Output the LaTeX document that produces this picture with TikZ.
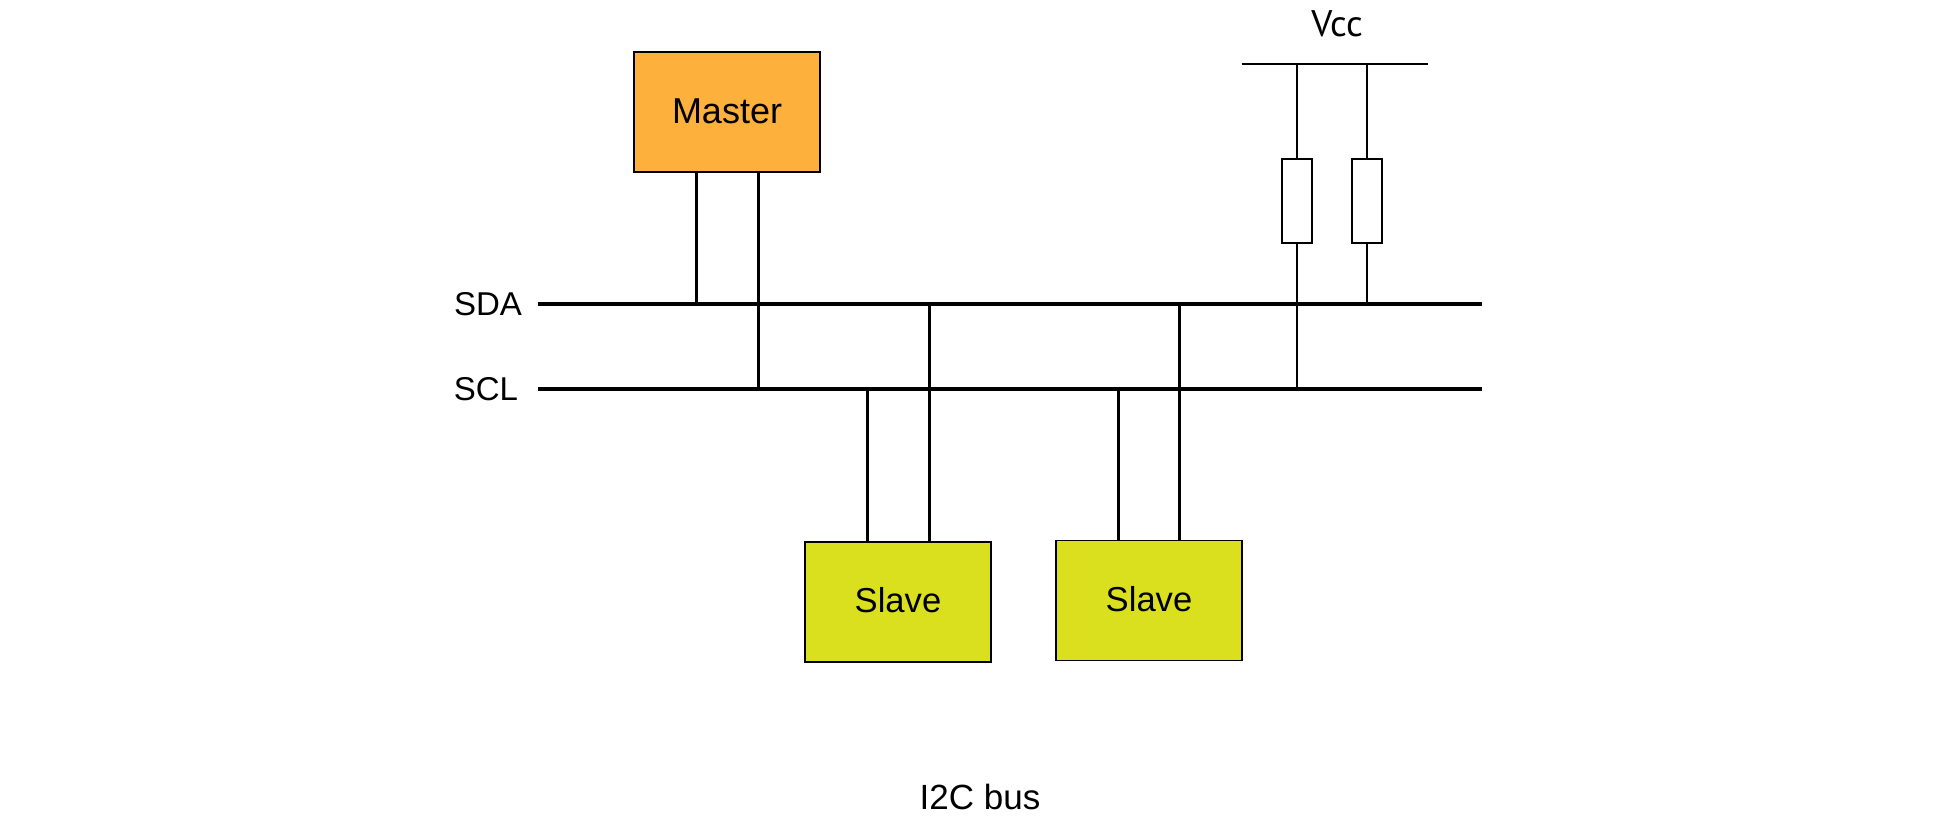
\documentclass[tikz,border=0pt]{standalone}
\usepackage{fontspec}
\setmainfont{Liberation Sans}
\newfontfamily\vccfont{PT Sans}
\definecolor{masterfill}{HTML}{FDB03B}
\definecolor{slavefill}{HTML}{DAE01E}
\tikzset{
  bus/.style={line width=2pt,black},
  wire/.style={line width=1.75pt,black},
  thinwire/.style={line width=1pt,black},
  chipbox/.style={draw=black,line width=0.65pt,minimum width=93pt,minimum height=60pt,inner sep=0pt,font=\fontsize{18}{20}\selectfont,text depth=0pt},
  slavebox/.style={chipbox,fill=slavefill,font=\fontsize{17.3}{20}\selectfont},
  resistor/.style={draw=black,fill=white,line width=1pt,minimum width=15pt,minimum height=42pt,inner sep=0pt},
  txt/.style={anchor=base,inner sep=0pt,font=\fontsize{17.5}{20}\selectfont},
  sidetxt/.style={txt,font=\fontsize{16.5}{20}\selectfont},
}
\begin{document}
\begin{tikzpicture}[x=0.5pt,y=-0.5pt]
\useasboundingbox (0,0) rectangle (1936,822);
% buses
\coordinate (sdaL) at (538,304.5);
\coordinate (sdaR) at (1482,304.5);
\coordinate (sclL) at (538,389);
\coordinate (sclR) at (1482,389);
\coordinate (vccL) at (1241.5,64);
\coordinate (vccR) at (1428,64);
% chips
\node[chipbox,fill=masterfill,text height=12pt] (master) at (727,112) {Master};
\node[slavebox,text height=10.5pt] (slaveA) at (898,602) {Slave};
\node[slavebox,text height=11pt] (slaveB) at (1149,600.5) {Slave};
\node[resistor] (rA) at (1297,201) {};
\node[resistor] (rB) at (1367,201) {};
% tap points
\coordinate (mA) at (696.5,304.5);
\coordinate (mB) at (758.5,389);
\coordinate (saA) at (867.5,389);
\coordinate (saB) at (929.5,304.5);
\coordinate (sbA) at (1118.5,389);
\coordinate (sbB) at (1179.5,304.5);
\coordinate (raT) at (1297,64);
\coordinate (rbT) at (1367,64);
\coordinate (raB) at (1297,389);
\coordinate (rbB) at (1367,304.5);
% wires
\draw[wire] (mA |- master.south) -- (mA);
\draw[wire] (mB |- master.south) -- (mB);
\draw[wire] (saA) -- (saA |- slaveA.north);
\draw[wire] (saB) -- (saB |- slaveA.north);
\draw[wire] (sbA) -- (sbA |- slaveB.north);
\draw[wire] (sbB) -- (sbB |- slaveB.north);
\draw[thinwire] (raT) -- (rA.north);
\draw[thinwire] (rbT) -- (rB.north);
\draw[thinwire] (rA.south) -- (raB);
\draw[thinwire] (rB.south) -- (rbB);
\draw[bus] (sdaL) -- (sdaR);
\draw[bus] (sclL) -- (sclR);
\draw[thinwire] (vccL) -- (vccR);
% labels
\node[sidetxt] (sdaT) at (488,316) {SDA};
\node[sidetxt] (sclT) at (486,401) {SCL};
\node[txt,font=\vccfont\fontsize{18.5}{20}\selectfont] (vccT) at (1337,36.5) {Vcc};
\node[txt] (busT) at (980,809) {I2C bus};
\end{tikzpicture}
\end{document}
